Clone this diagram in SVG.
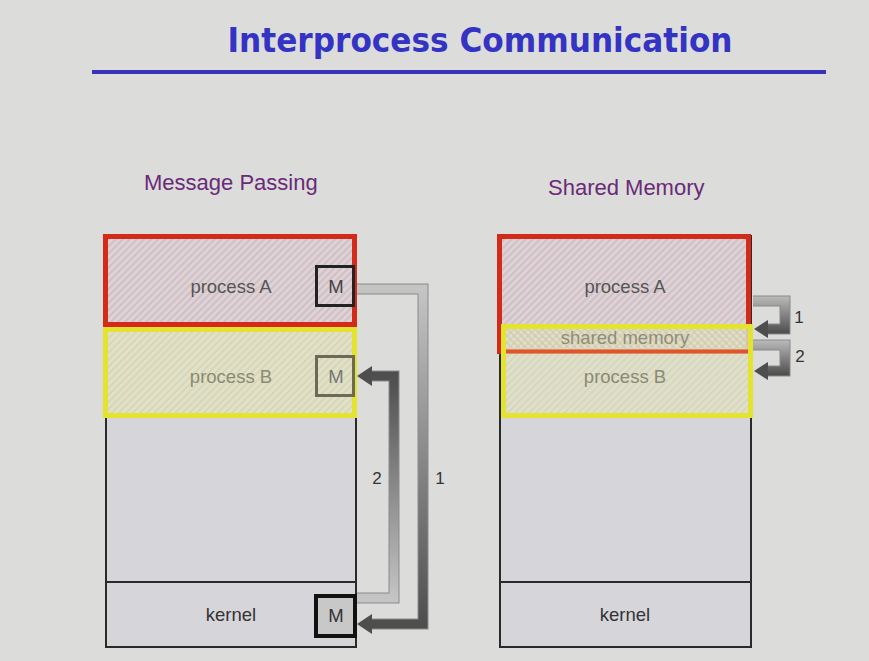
<svg xmlns="http://www.w3.org/2000/svg" width="869" height="661" viewBox="0 0 869 661">
<defs>
<pattern id="hp" patternUnits="userSpaceOnUse" width="5" height="5" patternTransform="rotate(45)">
<rect width="5" height="5" fill="#ddd3d7"/><line x1="1" y1="0" x2="1" y2="5" stroke="#cdb9bf" stroke-width="1.5"/>
</pattern>
<pattern id="hy" patternUnits="userSpaceOnUse" width="5" height="5" patternTransform="rotate(45)">
<rect width="5" height="5" fill="#e1e1ca"/><line x1="1" y1="0" x2="1" y2="5" stroke="#d4d4b0" stroke-width="1.5"/>
</pattern>
<pattern id="hyo" patternUnits="userSpaceOnUse" width="5" height="5" patternTransform="rotate(-45)">
<line x1="1" y1="0" x2="1" y2="5" stroke="#d0c8a8" stroke-width="1.3"/>
</pattern>
<linearGradient id="gL1" gradientUnits="userSpaceOnUse" x1="0" y1="289" x2="0" y2="624"><stop offset="0" stop-color="#c4c4c4"/><stop offset="1" stop-color="#4e4e4e"/></linearGradient>
<linearGradient id="gL2" gradientUnits="userSpaceOnUse" x1="0" y1="598" x2="0" y2="376"><stop offset="0" stop-color="#c4c4c4"/><stop offset="1" stop-color="#4e4e4e"/></linearGradient>
<linearGradient id="gR1" gradientUnits="userSpaceOnUse" x1="0" y1="297" x2="0" y2="333"><stop offset="0" stop-color="#b8b8b8"/><stop offset="1" stop-color="#4e4e4e"/></linearGradient>
<linearGradient id="gR2" gradientUnits="userSpaceOnUse" x1="0" y1="341" x2="0" y2="375"><stop offset="0" stop-color="#b8b8b8"/><stop offset="1" stop-color="#4e4e4e"/></linearGradient>
</defs>
<style>
.lbl{font-family:"Liberation Sans",Arial,sans-serif;font-size:18.5px;text-anchor:middle}
.hdr{font-family:"Liberation Sans",Arial,sans-serif;font-size:22px;fill:#6a2a78}
.box{fill:#d6d6da;stroke:#2a2a2a;stroke-width:2}
.pipe{fill:none;stroke-width:9;stroke-linejoin:miter}
.pipeo{fill:none;stroke:#8a8a8a;stroke-width:11;stroke-linejoin:miter}
.num{font-family:"Liberation Sans",Arial,sans-serif;font-size:17px;fill:#333}
</style>
<rect width="869" height="661" fill="#dcdcdb"/>
<g id="title">
<text x="480" y="52" font-family="'DejaVu Sans Condensed','DejaVu Sans',Verdana,sans-serif" font-weight="bold" font-size="33" fill="#3333c4" text-anchor="middle" textLength="505" lengthAdjust="spacingAndGlyphs">Interprocess Communication</text>
<rect x="92" y="70" width="734" height="4" fill="#3a33b8"/>
</g>
<text class="hdr" x="144" y="190">Message Passing</text>
<text class="hdr" x="548" y="195">Shared Memory</text>

<g id="mp-memory">
<rect class="box" x="106" y="236" width="250" height="411"/>
<line x1="106" y1="582" x2="356" y2="582" stroke="#2a2a2a" stroke-width="2"/>
<text class="lbl" x="231" y="621" fill="#333">kernel</text>
</g>
<g id="mp-processA">
<rect x="105.5" y="236.5" width="249" height="88" fill="url(#hp)" stroke="#d42a1a" stroke-width="5"/>
<text class="lbl" x="231" y="293" fill="#555">process A</text>
</g>
<g id="mp-processB">
<rect x="105.5" y="329.5" width="249" height="86" fill="url(#hy)" stroke="#e3e330" stroke-width="5"/>
<text class="lbl" x="231" y="383" fill="#8a8a74">process B</text>
</g>
<g id="mp-MA">
<rect x="316.5" y="266.5" width="37" height="39" fill="none" stroke="#222" stroke-width="3"/>
<text class="lbl" x="336" y="293" fill="#444" font-size="17">M</text>
</g>
<g id="mp-MB">
<rect x="316.5" y="356.5" width="37" height="39" fill="none" stroke="#6a6a55" stroke-width="3"/>
<text class="lbl" x="336" y="383" fill="#777" font-size="17">M</text>
</g>
<g id="mp-MK">
<rect x="316" y="596" width="39" height="40" fill="#c8c8c8" stroke="#111" stroke-width="4"/>
<text class="lbl" x="336" y="622" fill="#333" font-size="17">M</text>
</g>

<g id="sm-memory">
<rect class="box" x="500" y="236" width="251" height="411"/>
<line x1="500" y1="582" x2="751" y2="582" stroke="#2a2a2a" stroke-width="2"/>
<text class="lbl" x="625" y="621" fill="#333">kernel</text>
</g>
<g id="sm-processA">
<rect x="499.5" y="236.5" width="249" height="115" fill="url(#hp)" stroke="#d42a1a" stroke-width="5"/>
<text class="lbl" x="625" y="293" fill="#555">process A</text>
</g>
<g id="sm-processB">
<rect x="503.5" y="326.5" width="247" height="89" fill="url(#hy)" fill-opacity="0.85"/>
<rect x="503.5" y="329" width="247" height="21" fill="url(#hyo)"/>
<line x1="503" y1="351.5" x2="750" y2="351.5" stroke="#e0552a" stroke-width="4"/>
<rect x="503.5" y="326.5" width="247" height="89" fill="none" stroke="#e3e330" stroke-width="5"/>
<text class="lbl" x="625" y="383" fill="#8a8a74">process B</text>
</g>
<g id="sm-shared">
<text class="lbl" x="625" y="344" fill="#8e8e78" font-size="17">shared memory</text>
</g>

<g id="connectors">
<path class="pipeo" d="M357,289 H423 V624 H371"/>
<path class="pipe" d="M357,289 H423 V624 H371" stroke="url(#gL1)"/>
<polygon points="357,624 372,614 372,634" fill="#4e4e4e"/>
<path class="pipeo" d="M357,598 H394 V376 H371"/>
<path class="pipe" d="M357,598 H394 V376 H371" stroke="url(#gL2)"/>
<polygon points="357,376 372,366 372,386" fill="#4e4e4e"/>
<path class="pipeo" d="M753,301 H785 V329 H767"/>
<path class="pipe" d="M753,301 H785 V329 H767" stroke="url(#gR1)"/>
<polygon points="754,329 768,320 768,338" fill="#4e4e4e"/>
<path class="pipeo" d="M753,345 H785 V371 H767"/>
<path class="pipe" d="M753,345 H785 V371 H767" stroke="url(#gR2)"/>
<polygon points="754,371 768,362 768,380" fill="#4e4e4e"/>
<text class="num" x="377" y="484" text-anchor="middle">2</text>
<text class="num" x="440" y="484" text-anchor="middle">1</text>
<text class="num" x="799" y="323" text-anchor="middle">1</text>
<text class="num" x="800" y="362" text-anchor="middle">2</text>
</g>
</svg>
